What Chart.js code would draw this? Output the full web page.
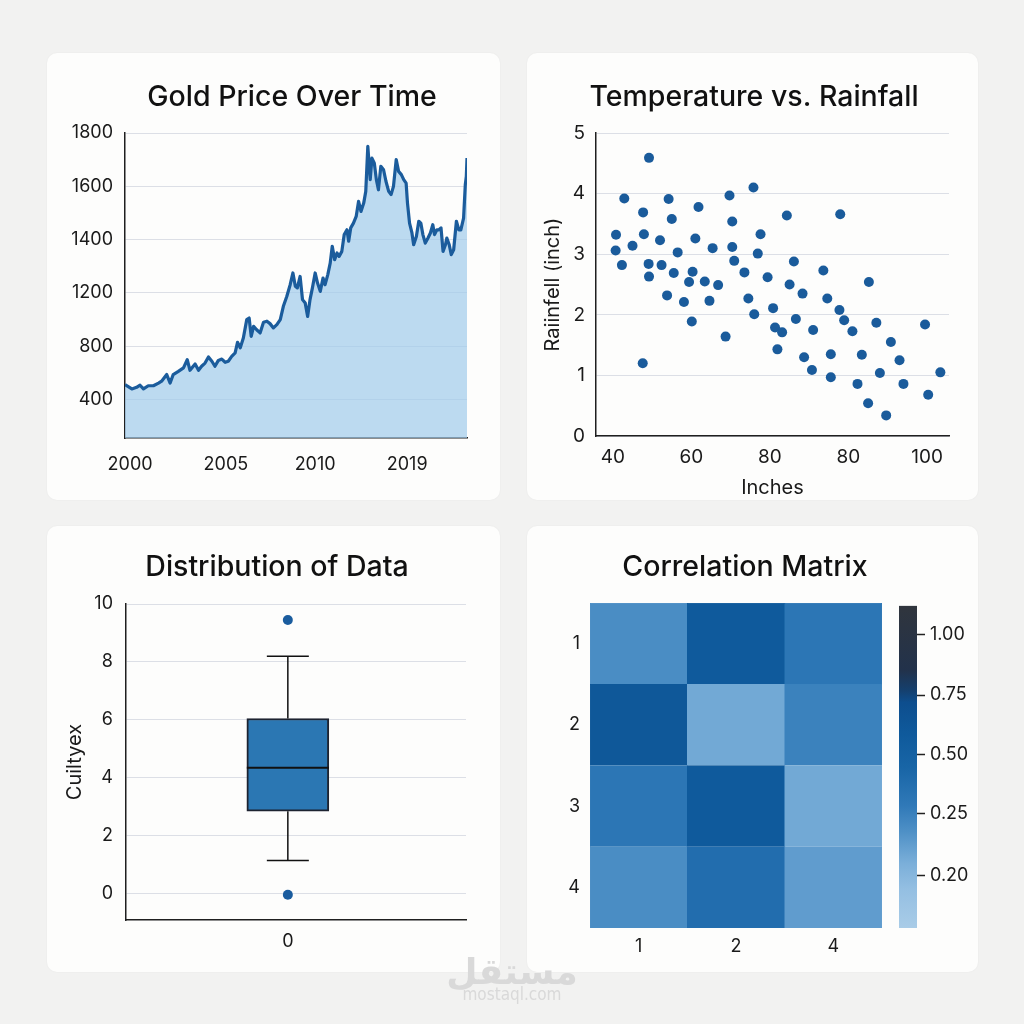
<!DOCTYPE html>
<html><head><meta charset="utf-8">
<script src="https://cdn.jsdelivr.net/npm/chart.js@4.4.1/dist/chart.umd.min.js"></script>
<style>
html,body{margin:0;padding:0;background:#f2f2f1;width:1024px;height:1024px;overflow:hidden;font-family:Inter,"Noto Sans",sans-serif;}
.card{position:absolute;background:#fdfdfc;border-radius:10px;box-shadow:0 0 2px rgba(0,0,0,0.05);}
canvas{position:absolute;left:0;top:0;}
.wm{position:absolute;left:0;width:1024px;text-align:center;color:#d9d9d9;}
</style></head><body>
<div class="card" style="left:47px;top:53px;width:453px;height:447px"><canvas id="gold" width="453" height="447"></canvas></div>
<div class="card" style="left:527px;top:53px;width:451px;height:447px"><canvas id="scat" width="451" height="447"></canvas></div>
<div class="card" style="left:47px;top:526px;width:453px;height:446px"><canvas id="box" width="453" height="446"></canvas></div>
<div class="card" style="left:527px;top:526px;width:451px;height:446px"><canvas id="heat" width="451" height="446"></canvas><canvas id="cbar" width="98" height="360" style="left:353px;top:64px"></canvas></div>
<div class="wm" style="top:946px;font-size:36px;font-weight:bold;font-family:'Noto Sans','DejaVu Sans',sans-serif;">مستقل</div>
<div class="wm" style="top:984px;font-size:17px;font-family:'Liberation Sans Narrow','DejaVu Sans Condensed',sans-serif;">mostaql.com</div>
<script>
// ---------- data ----------
const goldT = [0,2.0,3.4,4.4,5.4,6.8,8.3,9.8,10.7,12.2,13.2,14.1,15.6,17.1,18.2,19.0,20.5,21.5,22.4,23.4,24.4,25.4,26.3,27.3,28.3,29.3,30.2,31.2,32.2,32.9,33.7,34.6,35.6,36.3,36.9,37.6,38.5,39.5,40.5,41.5,42.4,43.4,44.4,45.4,46.3,47.3,48.3,49.1,49.8,50.4,51.2,51.9,52.7,53.4,54.1,54.8,55.6,56.3,57.1,57.9,58.5,59.3,60.0,60.6,61.3,62.0,62.6,63.4,64.1,64.9,65.4,66.0,66.8,67.6,68.3,69.0,69.8,70.4,71.0,71.7,72.2,72.9,73.5,74.1,74.8,75.6,76.3,77.1,77.8,78.5,79.3,80.0,80.8,81.5,82.2,82.6,83.2,83.9,84.4,85.2,85.9,86.5,87.1,87.8,88.6,89.3,90.0,90.5,91.2,91.8,92.4,93.0,93.7,94.1,94.8,95.4,96.1,96.9,97.6,98.2,99.0,99.5,99.8,100];
const goldPrice = [856,840,846,854,840,852,852,862,869,894,862,894,906,919,950,910,934,910,925,937,960,944,925,947,952,940,944,962,975,1015,994,1031,1100,1106,1037,1075,1062,1050,1090,1094,1085,1069,1081,1100,1150,1187,1231,1275,1225,1219,1262,1175,1162,1112,1175,1219,1275,1237,1206,1256,1231,1269,1312,1375,1325,1350,1337,1356,1419,1437,1394,1444,1462,1487,1544,1506,1537,1581,1750,1625,1706,1687,1625,1587,1675,1662,1619,1581,1569,1600,1700,1656,1644,1625,1612,1537,1462,1425,1381,1412,1469,1462,1419,1387,1406,1425,1456,1419,1437,1437,1444,1356,1381,1406,1381,1344,1362,1469,1437,1437,1481,1606,1637,1706];
const goldXTicks = [1.5,29.5,55.6,82.5];
const goldXLabels = ['2000','2005','2010','2019'];
const goldYTicks = [800,1000,1200,1400,1600,1800];
const goldYLabels = ['400','800','1200','1400','1600','1800'];

const scatTemp = [40.8,40.7,42.9,42.3,45.0,47.7,47.9,49.2,49.1,49.2,47.6,52.0,52.4,54.2,55.0,53.8,56.5,55.5,58.1,59.4,60.3,60.1,61.0,61.8,63.4,64.6,65.4,66.8,68.7,69.7,70.4,70.4,70.9,73.5,74.5,75.8,76.0,76.9,77.6,79.4,80.8,81.3,81.9,83.1,84.3,85.0,86.1,86.6,88.3,88.7,90.7,91.0,93.6,94.6,95.5,95.5,97.7,97.9,98.9,101.0,102.3,103.4,105.0,105.2,107.1,108.0,109.6,110.8,113.0,114.0,119.5,120.3,123.4];
const scatRain = [3.32,3.06,3.92,2.82,3.14,3.69,3.33,4.59,2.84,2.63,1.20,3.23,2.82,3.91,3.58,2.32,3.03,2.69,2.21,2.54,2.71,1.89,3.26,3.78,2.55,2.23,3.10,2.49,1.64,3.97,3.54,3.12,2.89,2.70,2.27,4.10,2.01,3.01,3.33,2.62,2.11,1.79,1.43,1.71,3.64,2.50,2.88,1.93,2.35,1.30,1.09,1.75,2.73,2.27,1.35,0.97,2.08,3.66,1.91,1.73,0.86,1.34,0.54,2.54,1.87,1.04,0.34,1.55,1.25,0.86,1.84,0.68,1.05];
const scatXTicks = [40,60,80,100,120];
const scatXLabels = ['40','60','80','80','100'];

const boxCategory = ['0'];
const boxQ1 = 2.85, boxQ3 = 6.05, boxMedian = 4.35, boxWhiskerLow = 1.15, boxWhiskerHigh = 8.2;
const boxOutliers = [9.45, -0.03];
const boxYTicks = [0,2,4,6,8,10];

const heatCols = ['1','2','4'];
const heatRows = ['1','2','3','4'];
const heatValues = [
  [0.31, 0.60, 0.40],
  [0.62, 0.22, 0.35],
  [0.40, 0.60, 0.22],
  [0.31, 0.45, 0.26]
];
const cbTickPos = [0.163, 0.354, 0.538, 0.723, 0.911];
const cbTickLabels = ['0.20','0.25','0.50','0.75','1.00'];

// ---------- colour map ----------
const cmStops = [0, 0.12, 0.2, 0.3, 0.38, 0.5, 0.6, 0.7, 0.74, 0.8, 1.0];
const cmColors = ['#a9cce7','#94bfe2','#7bafd9','#4e90c6','#3079b8','#1865a6','#0f5a9c','#0d4e8e','#153f6c','#22324b','#30353d'];
function hex2rgb(h){return [parseInt(h.slice(1,3),16),parseInt(h.slice(3,5),16),parseInt(h.slice(5,7),16)];}
function colorFor(v){
  for(let i=0;i<cmStops.length-1;i++){
    if(v>=cmStops[i] && v<=cmStops[i+1]){
      const f=(v-cmStops[i])/(cmStops[i+1]-cmStops[i]);
      const a=hex2rgb(cmColors[i]), b=hex2rgb(cmColors[i+1]);
      return 'rgb('+a.map((c,k)=>Math.round(c+(b[k]-c)*f)).join(',')+')';
    }
  }
  return cmColors[cmColors.length-1];
}

// ---------- common ----------
Chart.defaults.font.family = 'Inter, "Noto Sans", sans-serif';
Chart.defaults.color = '#1a1a1a';
const axisBorder = {display:true, color:'#1f1f1f', width:1.5};
const gridColor = '#dcdfe6';
const basePlugins = {legend:{display:false}, tooltip:{enabled:false}, title:{display:false}};
// card title drawn at a fixed place in the card
const cardTitle = {
  id:'cardTitle',
  afterDraw(chart, args, opts){
    const ctx = chart.ctx;
    ctx.save();
    ctx.font = '500 28.5px Inter, "Noto Sans", sans-serif';
    ctx.fillStyle = '#111';
    ctx.textAlign = 'center';
    ctx.textBaseline = 'middle';
    ctx.fillText(opts.text, opts.x, opts.y);
    ctx.restore();
  }
};

// ---------- 1. gold ----------
new Chart(document.getElementById('gold'), {
  type:'line',
  data:{datasets:[{
    data: goldT.map((t,i)=>({x:t, y:goldPrice[i]})),
    borderColor:'#1b5c9c', borderWidth:3.2, backgroundColor:'rgba(162,204,236,0.72)',
    fill:'start', pointRadius:0, tension:0, borderJoinStyle:'round'
  }]},
  options:{
    responsive:false, animation:false,
    layout:{padding:{left:0,right:33,top:80,bottom:0}},
    plugins:{...basePlugins, cardTitle:{text:'Gold Price Over Time', x:245, y:44}},
    scales:{
      x:{type:'linear', min:0, max:100,
        afterBuildTicks:s=>{s.ticks=goldXTicks.map(v=>({value:v}));},
        ticks:{callback:v=>goldXLabels[goldXTicks.indexOf(v)], padding:16, font:{size:18}, maxRotation:0, autoSkip:false},
        grid:{display:false, drawTicks:false}, border:axisBorder,
        afterFit:s=>{s.height=62;}},
      y:{type:'linear', min:656, max:1800,
        afterBuildTicks:s=>{s.ticks=goldYTicks.map(v=>({value:v}));},
        ticks:{callback:v=>goldYLabels[goldYTicks.indexOf(v)], padding:12, font:{size:18}},
        grid:{color:gridColor, drawTicks:false}, border:axisBorder,
        afterFit:s=>{s.width=78;}}
    }
  },
  plugins:[cardTitle]
});

// ---------- 2. scatter ----------
new Chart(document.getElementById('scat'), {
  type:'scatter',
  data:{datasets:[{
    data: scatTemp.map((x,i)=>({x, y:scatRain[i]})),
    backgroundColor:'#1a5b9b', borderWidth:0, pointRadius:5
  }]},
  options:{
    responsive:false, animation:false,
    layout:{padding:{left:0,right:29,top:80,bottom:0}},
    plugins:{...basePlugins, cardTitle:{text:'Temperature vs. Rainfall', x:227, y:44}},
    scales:{
      x:{type:'linear', min:35.7, max:125.6,
        afterBuildTicks:s=>{s.ticks=scatXTicks.map(v=>({value:v}));},
        ticks:{callback:v=>scatXLabels[scatXTicks.indexOf(v)], padding:10, font:{size:19}, maxRotation:0, autoSkip:false},
        grid:{display:false, drawTicks:false}, border:axisBorder,
        title:{display:true, text:'Inches', font:{size:20}, padding:{top:0,bottom:0}},
        afterFit:s=>{s.height=64;}},
      y:{type:'linear', min:0, max:5,
        ticks:{stepSize:1, padding:11, font:{size:19}},
        grid:{color:gridColor, drawTicks:false}, border:axisBorder,
        title:{display:true, text:'Raiinfell (inch)', font:{size:20}, padding:{top:14,bottom:0}},
        afterFit:s=>{s.width=69;}}
    }
  },
  plugins:[cardTitle]
});

// ---------- 3. box plot ----------
const whiskerPlugin = {
  id:'whiskers',
  afterDatasetsDraw(chart){
    const x=chart.scales.x, y=chart.scales.y, ctx=chart.ctx;
    const cx=x.getPixelForValue(0);
    ctx.save();
    ctx.strokeStyle='#111'; ctx.lineWidth=1.5;
    ctx.beginPath();
    ctx.moveTo(cx, y.getPixelForValue(boxQ3)); ctx.lineTo(cx, y.getPixelForValue(boxWhiskerHigh));
    ctx.moveTo(cx-21, y.getPixelForValue(boxWhiskerHigh)); ctx.lineTo(cx+21, y.getPixelForValue(boxWhiskerHigh));
    ctx.moveTo(cx, y.getPixelForValue(boxQ1)); ctx.lineTo(cx, y.getPixelForValue(boxWhiskerLow));
    ctx.moveTo(cx-21, y.getPixelForValue(boxWhiskerLow)); ctx.lineTo(cx+21, y.getPixelForValue(boxWhiskerLow));
    ctx.stroke();
    ctx.lineWidth=2;
    ctx.beginPath();
    ctx.moveTo(cx-41, y.getPixelForValue(boxMedian)); ctx.lineTo(cx+41, y.getPixelForValue(boxMedian));
    ctx.stroke();
    ctx.restore();
  }
};
new Chart(document.getElementById('box'), {
  type:'bar',
  data:{datasets:[
    {type:'bar', data:[{x:0, y:[boxQ1, boxQ3]}], backgroundColor:'#2b77b3', borderColor:'#1d2330', borderWidth:2, borderSkipped:false, barThickness:82},
    {type:'scatter', data:boxOutliers.map(v=>({x:0, y:v})), backgroundColor:'#1a5c9e', borderWidth:0, pointRadius:5}
  ]},
  options:{
    responsive:false, animation:false,
    layout:{padding:{left:0,right:34,top:78,bottom:0}},
    plugins:{...basePlugins, cardTitle:{text:'Distribution of Data', x:230, y:41}},
    scales:{
      x:{type:'linear', min:-0.476, max:0.524, offset:false,
        afterBuildTicks:s=>{s.ticks=[{value:0}];},
        ticks:{callback:()=>boxCategory[0], padding:11, font:{size:18}, autoSkip:false, maxRotation:0},
        grid:{display:false, drawTicks:false, offset:false}, border:axisBorder,
        afterFit:s=>{s.height=52;}},
      y:{type:'linear', min:-0.9, max:10,
        afterBuildTicks:s=>{s.ticks=boxYTicks.map(v=>({value:v}));},
        ticks:{padding:13, font:{size:18}},
        grid:{color:gridColor, drawTicks:false}, border:axisBorder,
        title:{display:true, text:'Cuiltyex', font:{size:20}, padding:{top:16,bottom:0}},
        afterFit:s=>{s.width=79;}}
    }
  },
  plugins:[whiskerPlugin, cardTitle]
});

// ---------- 4. heatmap ----------
const heatDatasets = [];
for(let r=heatRows.length-1;r>=0;r--){
  heatDatasets.push({
    label:heatRows[r], data:heatCols.map(()=>1),
    backgroundColor:heatValues[r].map(colorFor),
    borderColor:heatValues[r].map(colorFor), borderWidth:0.5,
    barPercentage:1, categoryPercentage:1, stack:'m'
  });
}
new Chart(document.getElementById('heat'), {
  type:'bar',
  data:{labels:heatCols, datasets:heatDatasets},
  options:{
    responsive:false, animation:false,
    layout:{padding:{left:0,right:96,top:77,bottom:0}},
    plugins:{...basePlugins, cardTitle:{text:'Correlation Matrix', x:218, y:41}},
    scales:{
      x:{stacked:true, grid:{display:false, drawTicks:false}, border:{display:false},
        ticks:{padding:8, font:{size:18}}, afterFit:s=>{s.height=44;}},
      y:{stacked:true, min:0, max:4,
        afterBuildTicks:s=>{s.ticks=[3.5,2.5,1.5,0.5].map(v=>({value:v}));},
        ticks:{callback:v=>heatRows[[3.5,2.5,1.5,0.5].indexOf(v)], padding:10, font:{size:18}},
        grid:{display:false, drawTicks:false}, border:{display:false},
        afterFit:s=>{s.width=63;}}
    }
  },
  plugins:[cardTitle]
});

// colour bar
new Chart(document.getElementById('cbar'), {
  type:'bar',
  data:{labels:['cb'], datasets:[{
    data:[[0,1]], barPercentage:1, categoryPercentage:1, borderWidth:0,
    backgroundColor:(c)=>{
      const area=c.chart.chartArea; if(!area) return '#3079b8';
      const g=c.chart.ctx.createLinearGradient(0,area.bottom,0,area.top);
      cmStops.forEach((s,i)=>g.addColorStop(s,cmColors[i]));
      return g;
    }
  }]},
  options:{
    responsive:false, animation:false,
    layout:{padding:{left:19,right:0,top:13,bottom:22}},
    plugins:{...basePlugins},
    scales:{
      x:{display:false},
      y:{position:'right', min:0, max:1,
        afterBuildTicks:s=>{s.ticks=cbTickPos.map(v=>({value:v}));},
        ticks:{callback:v=>cbTickLabels[cbTickPos.indexOf(v)], padding:5, font:{size:18}},
        grid:{drawOnChartArea:false, drawTicks:true, tickLength:8, tickColor:'#222', tickWidth:1.5},
        border:{display:false},
        afterFit:s=>{s.width=61;}}
    }
  }
});
</script>
</body></html>
